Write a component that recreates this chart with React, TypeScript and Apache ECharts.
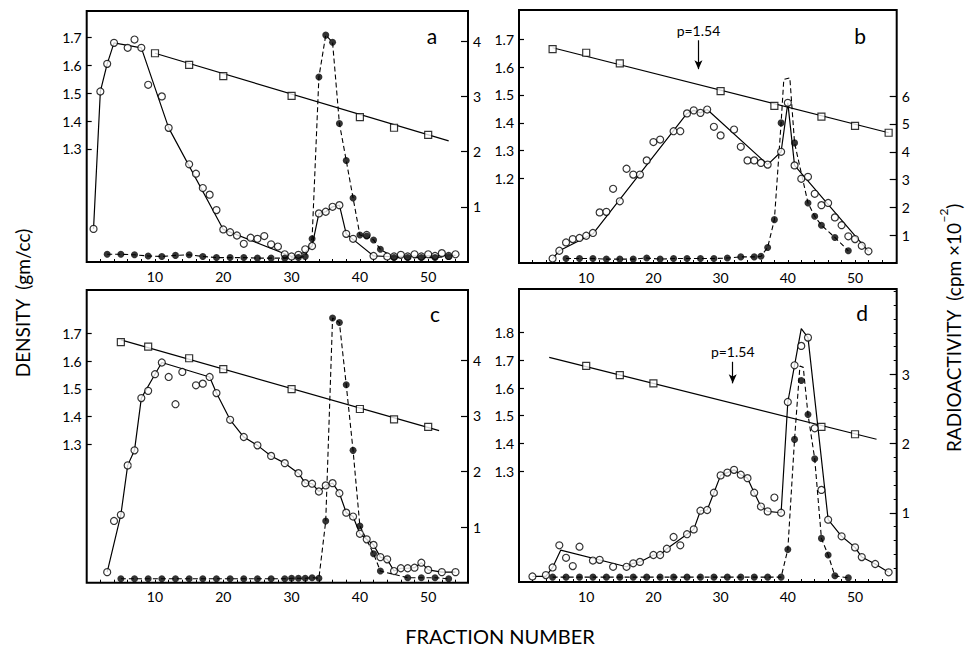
import React, { useEffect, useRef } from "react";
import * as echarts from "echarts";

const FONT = 'Lato, "DejaVu Sans", sans-serif';

// ---------- common axis values ----------
const FRACTION_LABELS = [10, 20, 30, 40, 50];
const FRACTION_TICKS = [2, 4, 6, 8, 10, 12, 14, 16, 18, 20, 22, 24, 26, 28, 30, 32, 34, 36, 38, 40, 42, 44, 46, 48, 50, 52, 54];

// ---------- panel a ----------
const A_DENS_TICKS = [1.3, 1.4, 1.5, 1.6, 1.7];
const A_RAD_TICKS = [1, 2, 3, 4];
const A_DENSITY = [[10, 1.644], [15, 1.602], [20, 1.562], [30, 1.491], [40, 1.414], [45, 1.376], [50, 1.35]];
const A_DENSITY_FIT = [[10, 1.644], [53, 1.329]];
const A_OPEN = [[1, 0.6], [2, 3.09], [3, 3.59], [4, 3.97], [6, 3.88], [7, 4.03], [8, 3.88], [9, 3.21], [11, 3.0], [12, 2.43], [15, 1.77], [16, 1.6], [17, 1.34], [18, 1.22], [19, 0.94], [20, 0.59], [21, 0.54], [22, 0.48], [23, 0.33], [24, 0.44], [25, 0.42], [26, 0.47], [27, 0.32], [28, 0.28], [29, 0.14], [30, 0.1], [31, 0.13], [32, 0.23], [33, 0.29], [34, 0.88], [35, 0.91], [36, 1.0], [37, 1.03], [38, 0.51], [39, 0.42], [41, 0.49], [42, 0.11], [44, 0.1], [45, 0.1], [46, 0.13], [47, 0.1], [48, 0.14], [49, 0.1], [50, 0.14], [51, 0.11], [52, 0.16], [53, 0.11], [54, 0.14]];
const A_OPEN_FIT = [[1, 0.6], [2, 3.09], [3, 3.59], [4, 3.97], [8, 3.88], [12, 2.43], [20, 0.59], [30, 0.1], [32, 0.18], [33, 0.29], [34, 0.88], [35, 0.91], [36, 1.0], [37, 1.03], [38, 0.51], [42, 0.11], [44, 0.1], [54, 0.12]];
const A_RAD = [[3, 0.14], [5, 0.14], [7, 0.13], [9, 0.11], [11, 0.1], [13, 0.12], [15, 0.13], [17, 0.1], [19, 0.08], [21, 0.08], [23, 0.08], [25, 0.07], [27, 0.07], [29, 0.07], [31, 0.08], [32, 0.1], [33, 0.42], [34, 3.35], [35, 4.11], [36, 3.98], [37, 2.51], [38, 1.84], [39, 1.16], [40, 0.49], [41, 0.47], [42, 0.4], [43, 0.23], [45, 0.08], [47, 0.08], [49, 0.08], [51, 0.08], [53, 0.1]];

// ---------- panel b ----------
const B_DENS_TICKS = [1.2, 1.3, 1.4, 1.5, 1.6, 1.7];
const B_RAD_TICKS = [1, 2, 3, 4, 5, 6];
const B_DENSITY = [[5, 1.665], [10, 1.652], [15, 1.614], [30, 1.514], [38, 1.461], [45, 1.422], [50, 1.389], [55, 1.364]];
const B_DENSITY_FIT = [[5, 1.67], [55, 1.364]];
const B_ARROW = [26.7, 1.697, 1.593];
const B_OPEN = [[5, 0.16], [6, 0.44], [7, 0.74], [8, 0.86], [9, 0.9], [10, 0.98], [11, 1.08], [12, 1.82], [13, 1.84], [14, 2.67], [15, 2.22], [16, 3.39], [17, 3.18], [18, 3.18], [19, 3.69], [20, 4.35], [21, 4.44], [23, 4.74], [24, 4.74], [25, 5.38], [26, 5.49], [27, 5.4], [28, 5.52], [29, 4.9], [30, 4.59], [32, 4.8], [33, 4.18], [34, 3.69], [35, 3.69], [36, 3.6], [37, 3.54], [39, 4.0], [40, 5.76], [41, 3.51], [42, 3.03], [43, 3.1], [44, 2.49], [45, 2.08], [46, 2.16], [47, 1.64], [48, 1.36], [49, 0.96], [50, 0.86], [51, 0.62], [52, 0.42]];
const B_OPEN_FIT = [[5, 0.16], [6, 0.44], [11, 1.05], [25, 5.38], [26, 5.49], [27, 5.4], [28, 5.52], [37, 3.54], [39, 4.0], [40, 5.76], [41, 3.51], [52, 0.42]];
const B_RAD = [[7, 0.16], [9, 0.16], [11, 0.16], [13, 0.14], [15, 0.14], [17, 0.14], [19, 0.18], [21, 0.14], [23, 0.16], [25, 0.16], [27, 0.16], [29, 0.16], [31, 0.18], [33, 0.22], [35, 0.22], [36, 0.24], [37, 0.56], [38, 1.56], [39, 5.04], [41, 4.32], [43, 2.16], [44, 1.68], [45, 1.36], [47, 0.92], [49, 0.44]];
const B_RAD_LINE = [[7, 0.16], [9, 0.16], [11, 0.16], [13, 0.14], [15, 0.14], [17, 0.14], [19, 0.18], [21, 0.14], [23, 0.16], [25, 0.16], [27, 0.16], [29, 0.16], [31, 0.18], [33, 0.22], [35, 0.22], [36, 0.24], [37, 0.56], [38, 1.56], [39, 5.04], [39.4, 6.6], [40.3, 6.66], [41, 4.32], [43, 2.16], [44, 1.68], [45, 1.36], [47, 0.92], [49, 0.44]];

// ---------- panel c ----------
const C_DENS_TICKS = [1.3, 1.4, 1.5, 1.6, 1.7];
const C_RAD_TICKS = [1, 2, 3, 4];
const C_DENSITY = [[5, 1.668], [9, 1.652], [15, 1.61], [20, 1.571], [30, 1.499], [40, 1.427], [45, 1.39], [50, 1.363]];
const C_DENSITY_FIT = [[5, 1.676], [51.6, 1.349]];
const C_OPEN = [[3, 0.19], [4, 1.11], [5, 1.22], [6, 2.11], [7, 2.38], [8, 3.32], [9, 3.45], [10, 3.75], [11, 3.96], [12, 3.7], [13, 3.21], [14, 3.79], [16, 3.55], [17, 3.58], [18, 3.7], [19, 3.41], [21, 2.93], [23, 2.62], [25, 2.47], [27, 2.28], [29, 2.15], [31, 1.97], [32, 1.79], [33, 1.78], [34, 1.64], [35, 1.75], [36, 1.79], [37, 1.61], [38, 1.26], [39, 1.19], [40, 0.88], [41, 0.78], [42, 0.68], [43, 0.46], [44, 0.42], [45, 0.21], [46, 0.26], [47, 0.26], [48, 0.27], [49, 0.36], [50, 0.23], [52, 0.19], [54, 0.19]];
const C_OPEN_FIT = [[3, 0.19], [5, 1.22], [6, 2.11], [7, 2.38], [8, 3.32], [10, 3.75], [11, 3.96], [18, 3.7], [19, 3.41], [21, 2.93], [23, 2.62], [25, 2.47], [27, 2.28], [29, 2.15], [31, 1.97], [32, 1.79], [33, 1.78], [34, 1.64], [35, 1.75], [36, 1.79], [37, 1.61], [38, 1.26], [39, 1.19], [40, 0.88], [41, 0.78], [42, 0.68], [43, 0.46], [44, 0.42], [45, 0.21], [46, 0.26], [47, 0.26], [48, 0.27], [49, 0.36], [50, 0.23], [52, 0.19], [54, 0.19]];
const C_RAD = [[5, 0.07], [7, 0.07], [9, 0.07], [11, 0.07], [13, 0.07], [15, 0.07], [17, 0.07], [19, 0.07], [21, 0.07], [23, 0.07], [25, 0.07], [27, 0.07], [29, 0.07], [30, 0.08], [31, 0.08], [32, 0.08], [33, 0.09], [34, 0.08], [35, 1.11], [36, 4.76], [37, 4.68], [38, 3.56], [39, 2.38], [40, 1.02], [42, 0.52], [43, 0.21], [47, 0.09], [49, 0.09], [51, 0.09], [53, 0.07]];

// ---------- panel d ----------
const D_DENS_TICKS = [1.3, 1.4, 1.5, 1.6, 1.7, 1.8];
const D_RAD_TICKS = [1, 2, 3];
const D_RAD_MINOR = [0.2, 0.4, 0.6, 0.8, 1, 1.2, 1.4, 1.6, 1.8, 2, 2.2, 2.4, 2.6, 2.8, 3, 3.2, 3.4, 3.6, 3.8, 4, 4.2];
const D_DENSITY = [[10, 1.68], [15, 1.647], [20, 1.617], [45, 1.46], [50, 1.433]];
const D_DENSITY_FIT = [[4.5, 1.711], [53.2, 1.415]];
const D_ARROW = [31.8, 1.695, 1.617];
const D_OPEN = [[2, 0.08], [4, 0.1], [5, 0.21], [6, 0.53], [7, 0.35], [8, 0.23], [9, 0.51], [11, 0.31], [12, 0.32], [14, 0.22], [16, 0.22], [17, 0.27], [18, 0.29], [20, 0.39], [21, 0.39], [22, 0.48], [23, 0.65], [24, 0.53], [25, 0.69], [26, 0.76], [27, 1.03], [28, 1.04], [29, 1.29], [30, 1.54], [31, 1.58], [32, 1.62], [33, 1.55], [34, 1.5], [35, 1.29], [36, 1.09], [37, 1.02], [38, 1.22], [39, 1.0], [40, 2.6], [41, 3.13], [42, 3.41], [43, 3.53], [44, 2.22], [45, 1.33], [46, 0.9], [48, 0.66], [50, 0.5], [51, 0.36], [53, 0.26], [55, 0.14]];
const D_OPEN_FIT = [[2, 0.08], [4, 0.08], [5, 0.21], [6.2, 0.46], [16, 0.22], [17, 0.27], [18, 0.29], [20, 0.39], [21, 0.39], [22, 0.48], [25, 0.69], [26, 0.76], [27, 1.03], [28, 1.04], [29, 1.29], [30, 1.54], [31, 1.58], [32, 1.62], [33, 1.55], [34, 1.5], [35, 1.29], [36, 1.09], [37, 1.02], [39, 1.0], [40, 2.6], [41, 3.13], [42, 3.66], [43, 3.53], [46, 0.9], [48, 0.66], [50, 0.5], [51, 0.36], [53, 0.26], [55, 0.14]];
const D_RAD = [[5, 0.07], [7, 0.07], [9, 0.07], [11, 0.07], [13, 0.07], [15, 0.07], [17, 0.07], [19, 0.07], [21, 0.07], [23, 0.07], [25, 0.07], [27, 0.07], [29, 0.07], [31, 0.07], [33, 0.07], [35, 0.07], [37, 0.07], [39, 0.07], [40, 0.47], [41, 2.06], [42, 2.91], [43, 2.42], [44, 1.78], [45, 0.63], [46, 0.39], [47, 0.09], [49, 0.06]];
const D_RAD_LINE = [[5, 0.07], [7, 0.07], [9, 0.07], [11, 0.07], [13, 0.07], [15, 0.07], [17, 0.07], [19, 0.07], [21, 0.07], [23, 0.07], [25, 0.07], [27, 0.07], [29, 0.07], [31, 0.07], [33, 0.07], [35, 0.07], [37, 0.07], [39, 0.07], [40, 0.47], [41, 2.06], [41.8, 3.12], [42.3, 3.1], [43, 2.42], [44, 1.78], [45, 0.63], [46, 0.39], [47, 0.09], [49, 0.06]];

const PANELS = [
  { letter: "a", lx: 432, ly: 35, left: 86.7, top: 11, width: 381.3, height: 251, xMax: 55.83, densMin: 0.893, densMax: 1.796, densTicks: A_DENS_TICKS, radMax: 4.547, radTicks: A_RAD_TICKS, density: A_DENSITY, densityFit: A_DENSITY_FIT, open: A_OPEN, openFit: A_OPEN_FIT, rad: A_RAD, radLine: A_RAD, arrow: null as number[] | null, minor: null as number[] | null },
  { letter: "b", lx: 860, ly: 35, left: 519, top: 10, width: 377.7, height: 253, xMax: 56.2, densMin: 0.895, densMax: 1.806, densTicks: B_DENS_TICKS, radMax: 9.1, radTicks: B_RAD_TICKS, density: B_DENSITY, densityFit: B_DENSITY_FIT, open: B_OPEN, openFit: B_OPEN_FIT, rad: B_RAD, radLine: B_RAD_LINE, arrow: B_ARROW, minor: null },
  { letter: "c", lx: 435, ly: 313, left: 86.7, top: 290, width: 381.3, height: 292.7, xMax: 55.83, densMin: 0.801, densMax: 1.856, densTicks: C_DENS_TICKS, radMax: 5.264, radTicks: C_RAD_TICKS, density: C_DENSITY, densityFit: C_DENSITY_FIT, open: C_OPEN, openFit: C_OPEN_FIT, rad: C_RAD, radLine: C_RAD, arrow: null, minor: null },
  { letter: "d", lx: 862, ly: 312, left: 519, top: 289, width: 377.7, height: 293, xMax: 56.2, densMin: 0.899, densMax: 1.958, densTicks: D_DENS_TICKS, radMax: 4.232, radTicks: D_RAD_TICKS, density: D_DENSITY, densityFit: D_DENSITY_FIT, open: D_OPEN, openFit: D_OPEN_FIT, rad: D_RAD, radLine: D_RAD_LINE, arrow: D_ARROW, minor: D_RAD_MINOR },
];

function buildOption() {
  const grid: any[] = [];
  const xAxis: any[] = [];
  const yAxis: any[] = [];
  const series: any[] = [];
  const graphic: any[] = [];
  const labelStyle = { color: "#000", fontSize: 14, fontFamily: FONT };

  PANELS.forEach((p, i) => {
    grid.push({ left: p.left, top: p.top, width: p.width, height: p.height, show: true, borderColor: "#000", borderWidth: 2, backgroundColor: "transparent" });
    xAxis.push({
      type: "value", gridIndex: i, min: 0, max: p.xMax,
      axisLine: { show: false }, splitLine: { show: false },
      axisTick: { show: true, inside: true, length: 3, customValues: FRACTION_TICKS, lineStyle: { color: "#000", width: 1 } },
      axisLabel: { ...labelStyle, margin: 7, customValues: FRACTION_LABELS },
    });
    yAxis.push({
      type: "value", gridIndex: i, position: "left", min: p.densMin, max: p.densMax,
      axisLine: { show: false }, splitLine: { show: false },
      axisTick: { show: true, inside: true, length: 5, customValues: p.densTicks, lineStyle: { color: "#000", width: 1.2 } },
      axisLabel: { ...labelStyle, margin: 5, customValues: p.densTicks, formatter: (v: number) => v.toFixed(1) },
    });
    yAxis.push({
      type: "value", gridIndex: i, position: "right", min: 0, max: p.radMax,
      axisLine: { show: false }, splitLine: { show: false },
      axisTick: { show: true, inside: true, length: 7, customValues: p.radTicks, lineStyle: { color: "#000", width: 1.2 } },
      axisLabel: { ...labelStyle, margin: 5, customValues: p.radTicks, formatter: (v: number) => String(v) },
    });
    const dy = 2 * i;
    const ry = 2 * i + 1;
    const densLine: any = {
      type: "line", xAxisIndex: i, yAxisIndex: dy, data: p.densityFit, symbol: "none", z: 2,
      lineStyle: { color: "#000", width: 1.2 },
    };
    if (p.arrow) {
      densLine.markLine = {
        silent: true, symbol: ["none", "arrow"], symbolSize: [6, 9],
        lineStyle: { color: "#000", width: 1.2, type: "solid" },
        label: { show: true, position: "start", formatter: "p=1.54", color: "#000", fontSize: 14, fontFamily: FONT, distance: 3 },
        data: [[{ coord: [p.arrow[0], p.arrow[1]] }, { coord: [p.arrow[0], p.arrow[2]] }]],
      };
    }
    series.push(densLine);
    series.push({
      type: "scatter", xAxisIndex: i, yAxisIndex: dy, data: p.density, symbol: "rect", symbolSize: 7, z: 5,
      itemStyle: { color: "#fff", borderColor: "#000", borderWidth: 1.2 },
    });
    series.push({
      type: "line", xAxisIndex: i, yAxisIndex: ry, data: p.openFit, symbol: "none", z: 2,
      lineStyle: { color: "#000", width: 1.2 },
    });
    series.push({
      type: "line", xAxisIndex: i, yAxisIndex: ry, data: p.radLine, symbol: "none", z: 2,
      lineStyle: { color: "#000", width: 1.1, type: [5, 3] },
    });
    series.push({
      type: "scatter", xAxisIndex: i, yAxisIndex: ry, data: p.open, symbol: "circle", symbolSize: 7, z: 5,
      itemStyle: { color: "#fff", borderColor: "#000", borderWidth: 1.2 },
    });
    series.push({
      type: "scatter", xAxisIndex: i, yAxisIndex: ry, data: p.rad, symbol: "circle", symbolSize: 7, z: 6,
      itemStyle: { color: "#000" },
    });
    graphic.push({
      type: "text", x: p.lx, y: p.ly,
      style: { text: p.letter, fontSize: 21, fontFamily: FONT, fill: "#000", align: "center", verticalAlign: "middle" },
    });
  });

  PANELS.forEach((p, i) => {
    if (p.minor) {
      yAxis.push({
        type: "value", gridIndex: i, position: "right", min: 0, max: p.radMax,
        axisLine: { show: false }, splitLine: { show: false },
        axisTick: { show: true, inside: true, length: 3, customValues: p.minor, lineStyle: { color: "#000", width: 1 } },
        axisLabel: { show: false },
      });
    }
  });

  graphic.push({
    type: "text", x: 22, y: 303, rotation: Math.PI / 2,
    style: { text: "DENSITY  (gm/cc)", fontSize: 19, fontFamily: FONT, fill: "#000", align: "center", verticalAlign: "middle" },
  });
  graphic.push({
    type: "text", x: 950, y: 328, rotation: Math.PI / 2,
    style: {
      text: "{n|RADIOACTIVITY  (cpm ×10}{s|−2}{n|)}",
      fontSize: 19, fontFamily: FONT, fill: "#000", align: "center", verticalAlign: "middle",
      rich: {
        n: { fontSize: 19, fontFamily: FONT, fill: "#000", verticalAlign: "bottom", lineHeight: 26 },
        s: { fontSize: 12, fontFamily: FONT, fill: "#000", verticalAlign: "top", lineHeight: 26 },
      },
    },
  });
  graphic.push({
    type: "text", x: 500, y: 636,
    style: { text: "FRACTION NUMBER", fontSize: 20, fontFamily: FONT, fill: "#000", align: "center", verticalAlign: "middle" },
  });

  return { animation: false, backgroundColor: "#fff", grid, xAxis, yAxis, series, graphic };
}

export default function App() {
  const ref = useRef<HTMLDivElement>(null);
  useEffect(() => {
    if (!ref.current) return;
    const chart = echarts.init(ref.current, null, { renderer: "svg" });
    chart.setOption(buildOption() as any);
    return () => chart.dispose();
  }, []);
  return <div ref={ref} style={{ position: "fixed", left: 0, top: 0, width: 970, height: 648, background: "#fff" }} />;
}
